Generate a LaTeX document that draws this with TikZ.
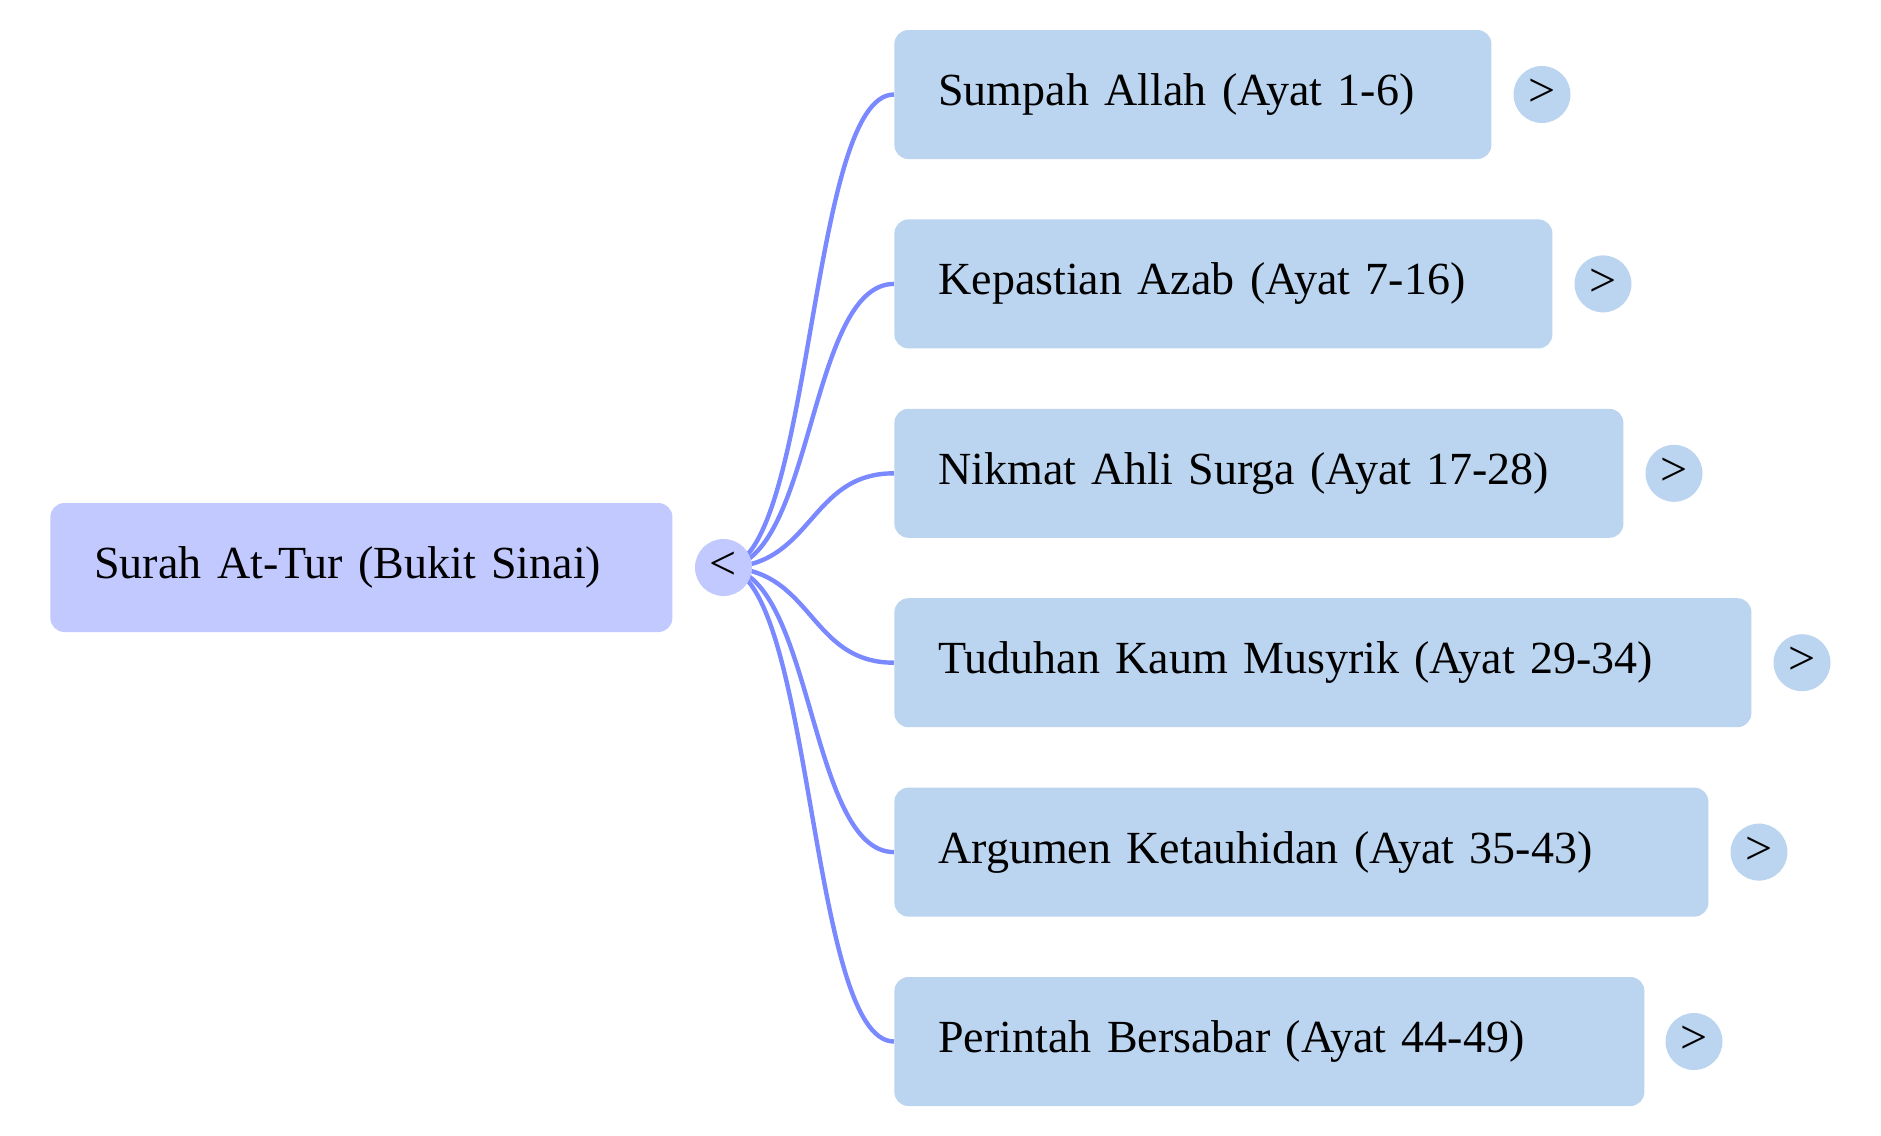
\documentclass[tikz,border=0pt]{standalone}
\usepackage{fontspec}
\setmainfont{Liberation Serif}
\usetikzlibrary{backgrounds}
\definecolor{rootfill}{RGB}{194,201,255}
\definecolor{childfill}{RGB}{187,212,239}
\definecolor{linkcol}{RGB}{122,137,255}
\begin{document}
\begin{tikzpicture}[x=0.5pt,y=-0.5pt,
  boxbase/.style={rectangle, rounded corners=7pt, minimum height=64.5pt,
    inner xsep=22pt, inner ysep=0pt, align=left, anchor=west,
    font=\fontsize{23}{27}\selectfont},
  rootbox/.style={boxbase, fill=rootfill},
  childbox/.style={boxbase, fill=childfill},
  toggle/.style={circle, minimum size=28.5pt, inner sep=0pt,
    font=\fontsize{24}{27}\selectfont},
  rtoggle/.style={toggle, fill=rootfill},
  ctoggle/.style={toggle, fill=childfill},
  conn/.style={draw=linkcol, line width=2.2pt}]
\useasboundingbox (0,0) rectangle (1881,1136);

\node[rootbox, text width=267pt] (root) at (50,567.5) {Surah At-Tur (Bukit Sinai)};
\node[rtoggle] (lt) at (723.5,567.5) {\raisebox{1.5pt}{<}};

\node[childbox, text width=254.5pt] (c1) at (894,94.5) {Sumpah Allah (Ayat 1-6)};
\node[childbox, text width=285pt] (c2) at (894,283.9) {Kepastian Azab (Ayat 7-16)};
\node[childbox, text width=320.5pt] (c3) at (894,473.3) {Nikmat Ahli Surga (Ayat 17-28)};
\node[childbox, text width=384.5pt] (c4) at (894,662.7) {Tuduhan Kaum Musyrik (Ayat 29-34)};
\node[childbox, text width=363pt] (c5) at (894,852.1) {Argumen Ketauhidan (Ayat 35-43)};
\node[childbox, text width=331pt] (c6) at (894,1041.5) {Perintah Bersabar (Ayat 44-49)};

\node[ctoggle] (t1) at (1542,94.5) {\raisebox{1.5pt}{>}};
\node[ctoggle] (t2) at (1603,283.9) {\raisebox{1.5pt}{>}};
\node[ctoggle] (t3) at (1674,473.3) {\raisebox{1.5pt}{>}};
\node[ctoggle] (t4) at (1802,662.7) {\raisebox{1.5pt}{>}};
\node[ctoggle] (t5) at (1759,852.1) {\raisebox{1.5pt}{>}};
\node[ctoggle] (t6) at (1694,1041.5) {\raisebox{1.5pt}{>}};

\begin{pgfonlayer}{background}
\foreach \c in {c1,c2,c3,c4,c5,c6}
  \draw[conn] (lt.center) .. controls +(90,0) and +(-86,0) .. (\c.west);
\end{pgfonlayer}
\end{tikzpicture}
\end{document}
